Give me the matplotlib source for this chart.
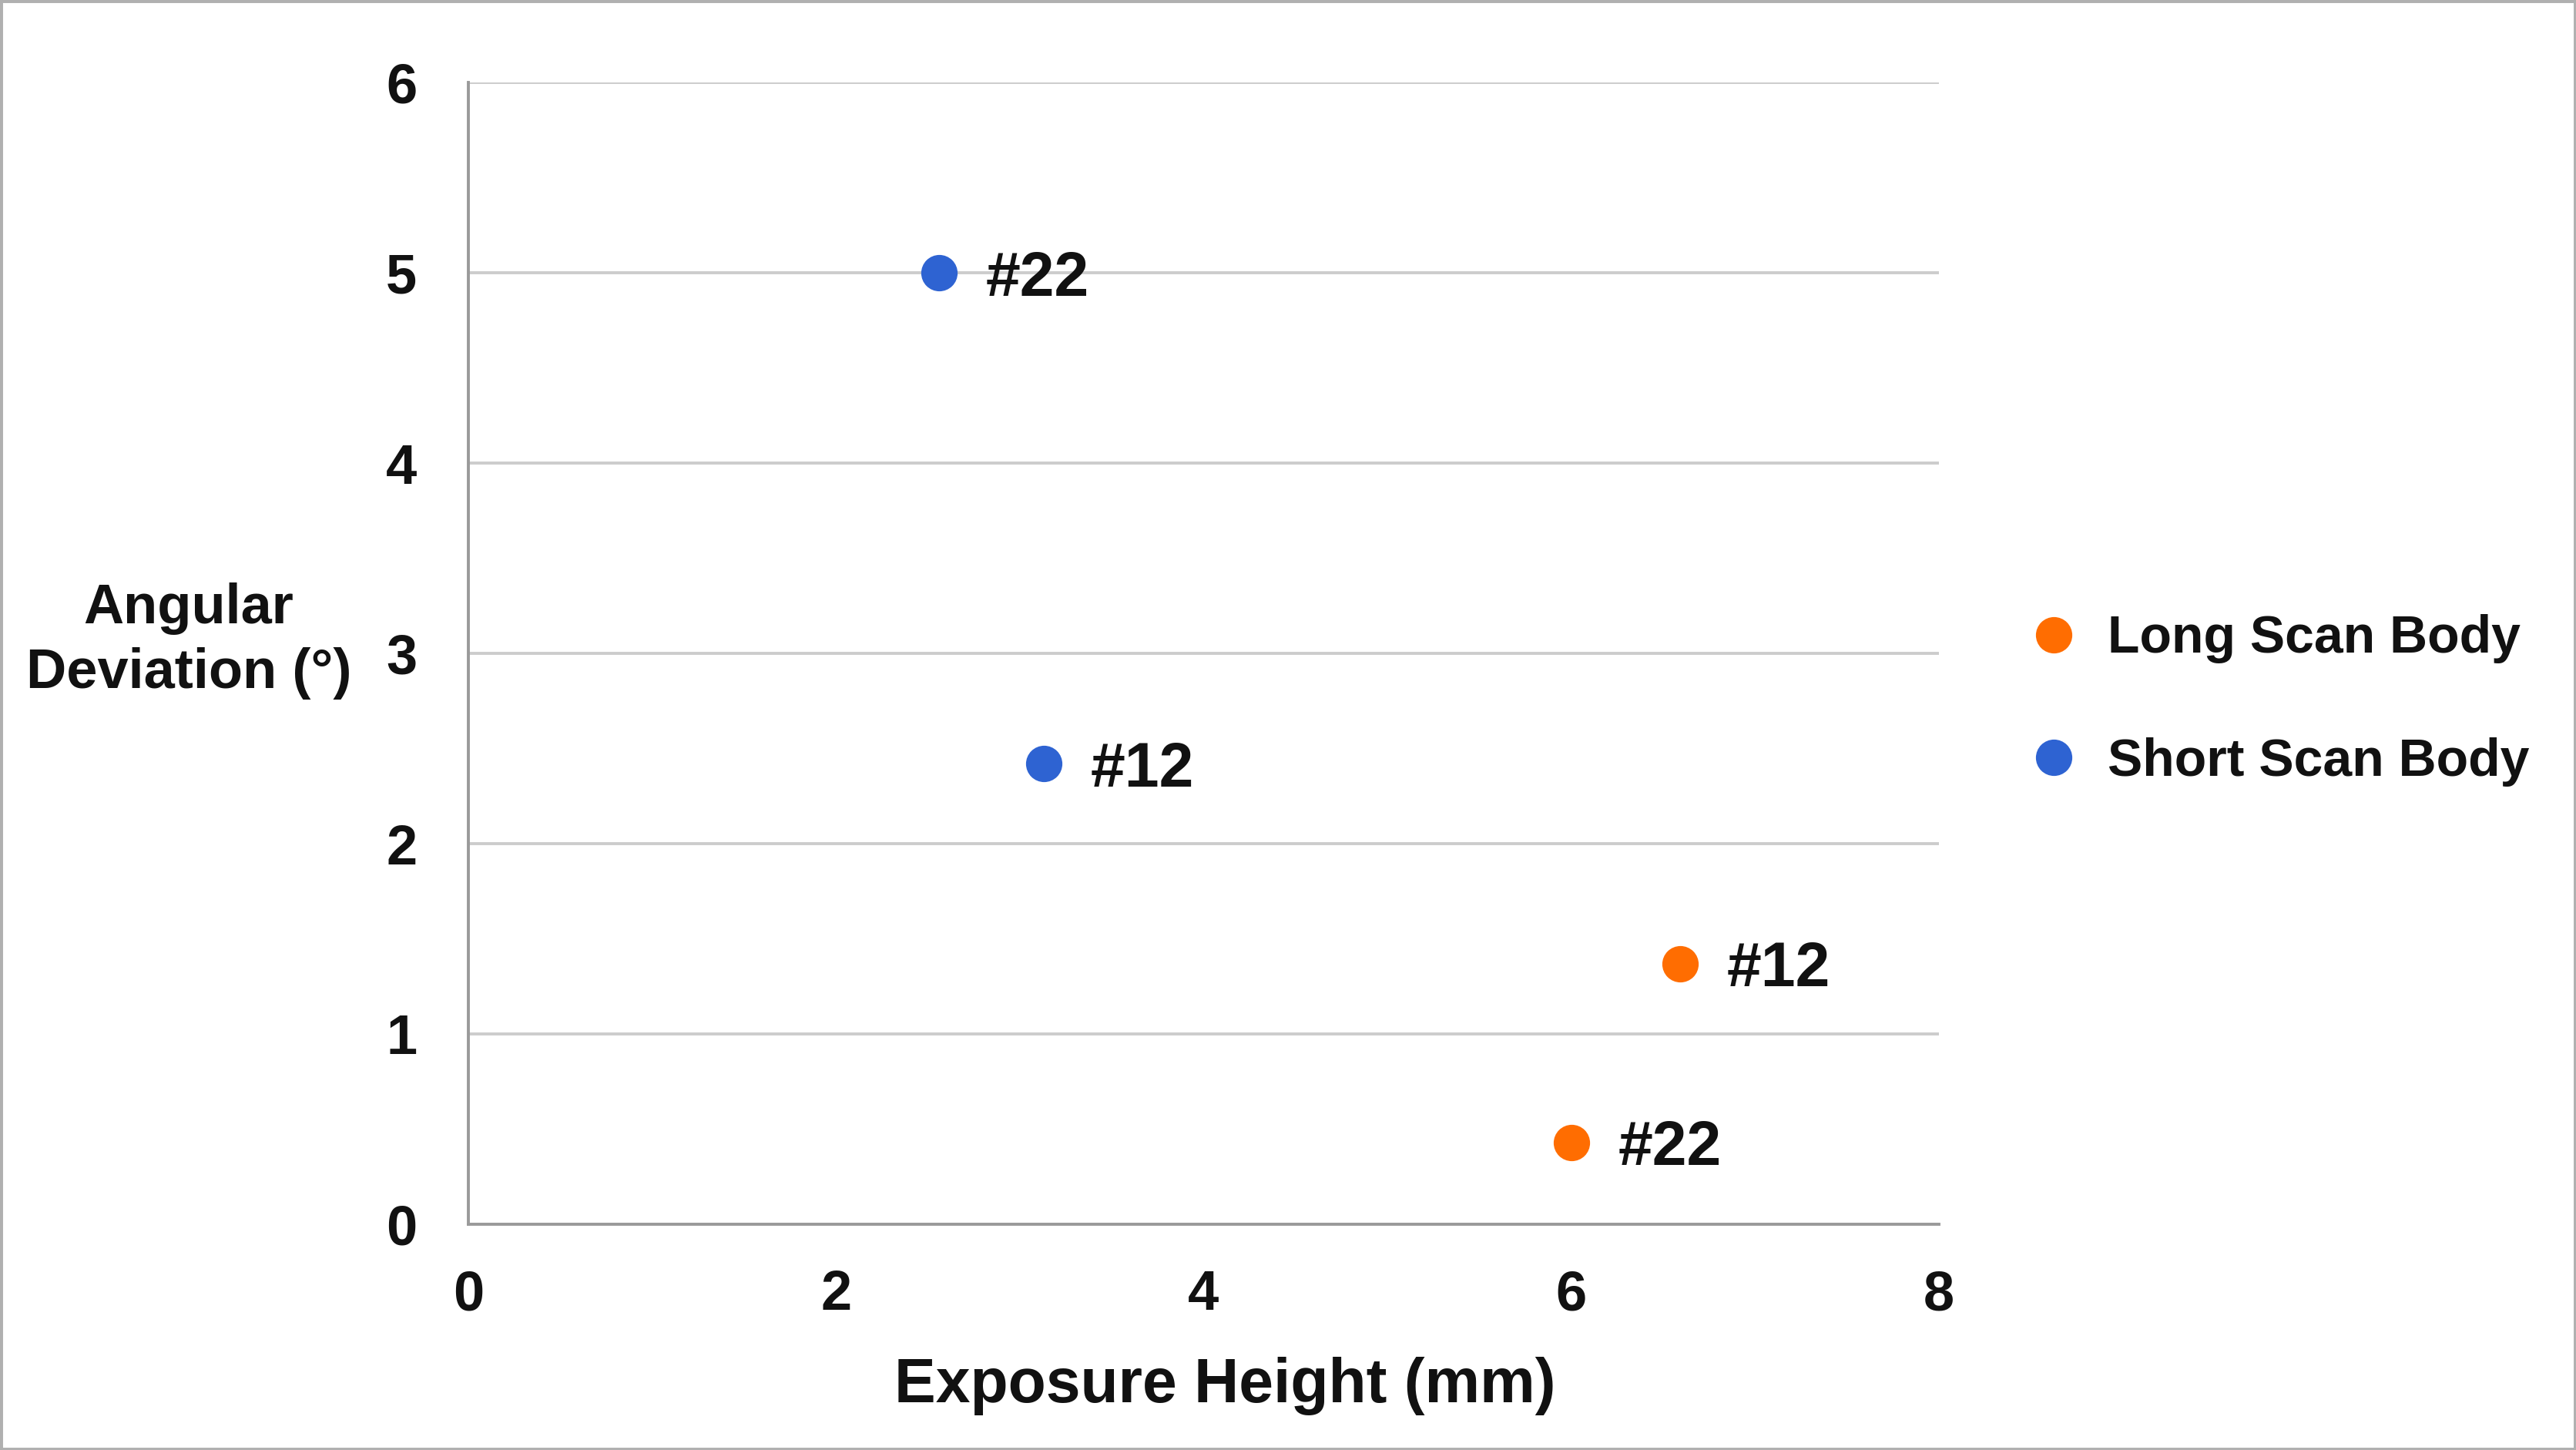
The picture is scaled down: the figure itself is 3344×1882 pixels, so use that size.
import matplotlib
matplotlib.use("Agg")
import matplotlib.pyplot as plt
from matplotlib.patches import Rectangle

plt.rcParams['font.family'] = ['Liberation Sans', 'DejaVu Sans']
plt.rcParams['font.weight'] = 'bold'

# Data
series_names = ["Long Scan Body", "Short Scan Body"]
long_x = [6.59, 6.0]
long_y = [1.37, 0.43]
long_labels = ["#12", "#22"]
short_x = [2.56, 3.13]
short_y = [5.0, 2.42]
short_labels = ["#22", "#12"]
x_ticks = [0, 2, 4, 6, 8]
y_ticks = [0, 1, 2, 3, 4, 5, 6]

colors = {"Long Scan Body": "#ff6d01", "Short Scan Body": "#2e63d2"}

DPI = 200
W, H = 3344, 1882
fig = plt.figure(figsize=(W / DPI, H / DPI), dpi=DPI)
ax = fig.add_axes([0.1818, 0.1557, 0.7527 - 0.1818, 0.9431 - 0.1557])

FS = 26

for name, xs, ys, labs in [("Long Scan Body", long_x, long_y, long_labels),
                           ("Short Scan Body", short_x, short_y, short_labels)]:
    ax.plot(xs, ys, linestyle='none', marker='o', markersize=17,
            color=colors[name], markeredgewidth=0, label=name, zorder=3)
    for x, y, t in zip(xs, ys, labs):
        ax.annotate(t, (x, y), xytext=(22, 0), textcoords='offset points',
                    ha='left', va='center_baseline', fontsize=29, fontweight='bold',
                    color='#111111')

ax.set_xlim(0, 8)
ax.set_ylim(0, 6)
ax.set_xticks(x_ticks)
ax.set_yticks(y_ticks)
ax.tick_params(axis='both', length=0, labelsize=FS, colors='#111111')
ax.tick_params(axis='y', pad=24)
ax.tick_params(axis='x', pad=21)
for lab in ax.get_xticklabels() + ax.get_yticklabels():
    lab.set_fontweight('bold')

ax.grid(axis='y', color='#cccccc', linewidth=1.4)
ax.set_axisbelow(True)
for s in ['top', 'right']:
    ax.spines[s].set_visible(False)
for s in ['left', 'bottom']:
    ax.spines[s].set_color('#9a9a9a')
    ax.spines[s].set_linewidth(1.4)

ax.set_xlabel("Exposure Height (mm)", fontsize=29, fontweight='bold', color='#111111')
ax.xaxis.set_label_coords(0.5145, -0.116)
fig.text(245 / W, 1 - 832 / H, "Angular\nDeviation (°)", ha='center', va='center',
         fontsize=FS, fontweight='bold', linespacing=1.3, color='#111111')

LFS = 24.5
leg = ax.legend(loc='center left', bbox_to_anchor=(2632 / W, 1 - 909 / H),
                bbox_transform=fig.transFigure, frameon=False,
                handletextpad=0.53, labelspacing=1.40, handlelength=1.0,
                borderpad=0, borderaxespad=0,
                prop={'size': LFS, 'weight': 'bold'})
for t in leg.get_texts():
    t.set_color('#111111')

fig.patches.append(Rectangle((0, 0), 1, 1, transform=fig.transFigure, fill=False,
                             edgecolor='#b0b0b0', linewidth=2.5, zorder=10))

fig.savefig("out.png", dpi=DPI, facecolor='white')
